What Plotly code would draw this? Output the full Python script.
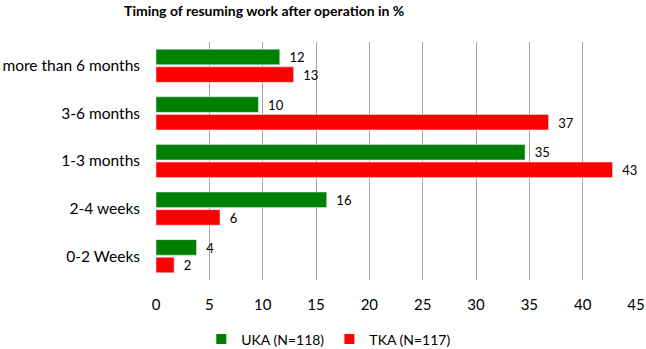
import plotly.graph_objects as go

categories = ["more than 6 months", "3-6 months", "1-3 months", "2-4 weeks", "0-2 Weeks"]
uka_values = [11.6, 9.6, 34.6, 16.0, 3.8]
tka_values = [12.9, 36.8, 42.8, 6.0, 1.7]
series_names = ["UKA (N=118)", "TKA (N=117)"]
series_colors = ["#008000", "#ff0000"]
x_ticks = [0, 5, 10, 15, 20, 25, 30, 35, 40, 45]

FONT = "Lato, 'Open Sans', sans-serif"
label_font = dict(family=FONT, size=16, color="#000000")

fig = go.Figure()
for vals, name, col in zip([uka_values, tka_values], series_names, series_colors):
    fig.add_trace(go.Bar(
        y=categories, x=vals, name=name, orientation="h",
        marker=dict(color=col), showlegend=False,
        texttemplate="\u00a0\u00a0%{x:.0f}", textposition="outside", textfont=label_font,
        cliponaxis=False,
    ))
# legend entries with small square swatches
for name, col in zip(series_names, series_colors):
    fig.add_trace(go.Scatter(
        x=[None], y=[None], mode="markers", name=name,
        marker=dict(symbol="square", size=10, color=col),
    ))

fig.update_layout(
    width=646, height=349,
    margin=dict(l=156, r=10, t=42, b=69, autoexpand=False),
    paper_bgcolor="white", plot_bgcolor="white",
    barmode="group", bargap=0.26, bargroupgap=0.12,
    title=dict(text="<b>Timing of resuming work after operation in %</b>",
               x=0.409, xanchor="center", yref="container", y=0.967, yanchor="middle",
               font=dict(family=FONT, size=14, color="#000000")),
    xaxis=dict(range=[0, 45], tickvals=x_ticks, showgrid=True, gridcolor="#a6a6a6",
               gridwidth=1, zeroline=False, showline=False, ticks="",
               ticklabelstandoff=14, automargin=False,
               tickfont=dict(family=FONT, size=15, color="#000000")),
    yaxis=dict(autorange="reversed", categoryorder="array", categoryarray=categories,
               showgrid=False, zeroline=False, showline=False, ticks="",
               ticklabelstandoff=15, automargin=False,
               tickfont=dict(family=FONT, size=15.5, color="#000000")),
    showlegend=True,
    legend=dict(orientation="h", x=0.36, xanchor="center", y=-0.25, yanchor="middle",
                font=dict(family=FONT, size=14, color="#000000"),
                itemwidth=30, traceorder="normal"),
)

fig.write_html("out.html", config={"displayModeBar": False},
               post_script="document.body.style.margin='0';")
